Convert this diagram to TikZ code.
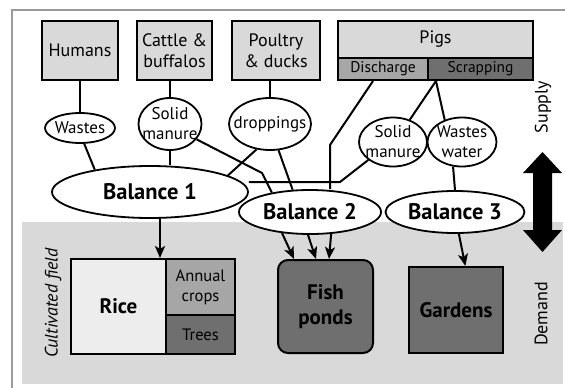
\documentclass[tikz,border=0pt]{standalone}
\usepackage{fontspec}
\setmainfont{PT Sans}
\usetikzlibrary{shapes.geometric,arrows.meta}
\pgfdeclarelayer{back}
\pgfdeclarelayer{bg}
\pgfsetlayers{back,bg,main}
\definecolor{lightfill}{HTML}{D9D9D9}
\definecolor{ricefill}{HTML}{EDEDED}
\definecolor{midfill}{HTML}{A6A6A6}
\definecolor{darkfill}{HTML}{6F6F6F}
\definecolor{framegray}{HTML}{9A9A9A}
\tikzset{
 srcbox/.style={draw, line width=2.4pt, fill=lightfill, inner sep=0pt, align=center, font=\fontsize{18}{21}\selectfont},
 subbox/.style={draw, line width=2pt, inner sep=0pt, font=\fontsize{15.5}{17}\selectfont},
 oval/.style={ellipse, draw, line width=1.8pt, fill=white, inner sep=0pt},
 lbl/.style={align=center, inner sep=0pt, font=\fontsize{17}{20}\selectfont},
 balance/.style={ellipse, draw, line width=1.8pt, fill=white, inner sep=0pt, font=\bfseries\fontsize{22.5}{24}\selectfont},
 fieldbox/.style={draw, line width=2pt, inner sep=0pt, align=center},
 link/.style={line width=2pt},
 arr/.style={line width=2pt, -{Stealth[length=12pt,width=10pt,inset=3pt]}},
 sidelabel/.style={rotate=90, inner sep=0pt, font=\fontsize{18}{20}\selectfont},
}
\begin{document}
\begin{tikzpicture}[x=1pt,y=-1pt]
\useasboundingbox (0,0) rectangle (565,388);
\begin{pgfonlayer}{back}
\fill[lightfill] (22,222) rectangle (563,384);
\draw[framegray, line width=1.5pt] (12,388) -- (12,10) -- (565,10);
\end{pgfonlayer}

% supply nodes
\node[srcbox, minimum width=76, minimum height=59] (humans) at (80,50.5) {Humans};
\node[srcbox, minimum width=75, minimum height=59] (cattle) at (174.5,50.5) {Cattle \&\\buffalos};
\node[srcbox, minimum width=88, minimum height=59] (poultry) at (276,50.5) {Poultry\\\& ducks};
\node[srcbox, minimum width=195, minimum height=37] (pigs) at (435.5,39.5) {Pigs};
\node[subbox, fill=midfill, minimum width=90, minimum height=22] (discharge) at (383,69) {Discharge};
\node[subbox, fill=darkfill, minimum width=105, minimum height=22] (scrapping) at (480.5,69) {Scrapping};

% ovals
\node[oval, minimum width=70, minimum height=30, label={[lbl]center:Wastes}] (wastes) at (80,128) {};
\node[oval, minimum width=63, minimum height=52, label={[lbl]center:Solid\\manure}] (sm1) at (170,124) {};
\node[oval, minimum width=82, minimum height=52, label={[lbl]center:droppings}] (droppings) at (270,124) {};
\node[oval, minimum width=68, minimum height=49, label={[lbl]center:Solid\\manure}] (sm2) at (393,142) {};
\node[oval, minimum width=69, minimum height=49, label={[lbl]center:Wastes\\water}] (ww) at (462,142) {};

% balances
\node[balance, minimum width=196, minimum height=52] (b1) at (150,192) {Balance 1};
\node[balance, minimum width=142, minimum height=44] (b2) at (310,212) {Balance 2};
\node[balance, minimum width=139, minimum height=42] (b3) at (455,212) {Balance 3};

% demand boxes
\node[fieldbox, fill=ricefill, minimum width=95, minimum height=95, font=\bfseries\fontsize{21}{24}\selectfont] (rice) at (118.5,306.5) {Rice};
\node[fieldbox, fill=midfill, minimum width=69, minimum height=56, font=\fontsize{16.5}{20}\selectfont] (annual) at (200.5,287) {Annual\\crops};
\node[fieldbox, fill=darkfill, minimum width=69, minimum height=39, font=\fontsize{16.5}{19}\selectfont] (trees) at (200.5,334.5) {Trees};
\node[fieldbox, fill=darkfill, rounded corners=10pt, minimum width=95, minimum height=93, font=\bfseries\fontsize{21}{25}\selectfont] (fish) at (325.5,306.5) {Fish\\ponds};
\node[fieldbox, fill=darkfill, minimum width=94, minimum height=86, font=\bfseries\fontsize{21}{24}\selectfont] (gardens) at (456,310) {Gardens};

% side labels
\node[sidelabel] (supply) at (543,107) {Supply};
\node[sidelabel] (demand) at (541,314) {Demand};
\node[sidelabel, font=\itshape\fontsize{18}{20}\selectfont] (cult) at (53,303) {Cultivated field};

% double arrow
\fill (542.5,152) -- (562,173) -- (552,173) -- (552,230) -- (562,230) -- (542.5,252)
  -- (523,230) -- (533,230) -- (533,173) -- (523,173) -- cycle;

\coordinate (k1) at (262,173);
\coordinate (k2) at (340,182);
\coordinate (k3) at (330,145);

\begin{pgfonlayer}{bg}
\draw[link] (humans.south) -- (wastes.north);
\draw[link] (wastes.-75) -- (b1.158);
\draw[link] (cattle.south -| sm1.north) -- (sm1.north);
\draw[link] (sm1.south) -- (sm1.south |- b1.north);
\draw[link] (poultry.south -| droppings.north) -- (droppings.north);
\draw[link] (droppings.-118) -- (b1.12);
\draw[link] (sm1.-30) -- (k1) -- (b2.153);
\draw[link] (droppings.-72) -- (b2.128);
\draw[link] ([xshift=-10pt]discharge.south) -- (k3) -- (k3 |- b2.north);
\draw[link] (sm2.-144) -- (k2) -- (k2 -| b1.east);
\draw[link] ([xshift=9pt]scrapping.south west) -- (sm2.53);
\draw[link] ([xshift=9pt]scrapping.south west) -- (ww.128);
\draw[link] (ww.-110) -- (b3.north);
\draw[arr] (b3.-80) -- (gardens.78);
\draw[arr] ([xshift=10pt]b1.south) -- ([xshift=41.5pt]rice.north);
\draw[arr] (b2.-143) -- ([xshift=17pt]fish.north west);
\draw[arr] (b2.-95) -- ([xshift=39pt]fish.north west);
\draw[arr] (b2.-46) -- ([xshift=52pt]fish.north west);
\end{pgfonlayer}
\end{tikzpicture}
\end{document}
